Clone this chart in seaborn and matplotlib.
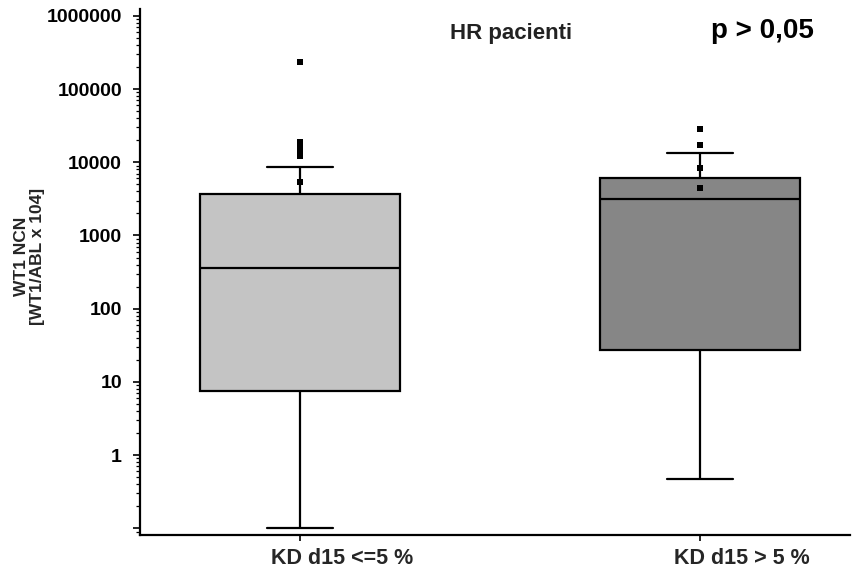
import numpy as np
import pandas as pd
import matplotlib
matplotlib.use("Agg")
import matplotlib.pyplot as plt
import seaborn as sns
from matplotlib.ticker import FixedLocator, LogLocator, NullFormatter

# Groups and box statistics (WT1 NCN)
groups = ["KD d15 <=5 %", "KD d15 > 5 %"]
whisker_low = [0.1, 0.47]
quartile_1 = [7.5, 27]
medians = [357, 3150]
quartile_3 = [3680, 6100]
whisker_high = [8550, 13400]

# Individual points drawn above/near the boxes
points_low = [234000, 19000, 16500, 14700, 13300, 12100, 5380]
points_high = [28500, 17300, 8300, 4450]

box_colors = ["#c4c4c4", "#868686"]
y_ticks = [0.1, 1, 10, 100, 1000, 10000, 100000, 1000000]
y_tick_labels = ["", "1", "10", "100", "1000", "10000", "100000", "1000000"]

# Five values per group: with linear percentiles these give exactly
# min / Q1 / median / Q3 / max
box_df = pd.DataFrame({
    "group": np.repeat(groups, 5),
    "value": [v for i in range(len(groups)) for v in
              (whisker_low[i], quartile_1[i], medians[i], quartile_3[i], whisker_high[i])],
})
pts_df = pd.DataFrame({
    "group": [groups[0]] * len(points_low) + [groups[1]] * len(points_high),
    "value": points_low + points_high,
})

sns.set_style("ticks")
plt.rcParams["font.family"] = ["Liberation Sans", "DejaVu Sans"]
plt.rcParams["font.weight"] = "bold"

fig = plt.figure(figsize=(8.53, 5.75), dpi=100)
ax = fig.add_axes([140 / 853, 40 / 575, 710 / 853, 526 / 575])

sns.boxplot(
    data=box_df, x="group", y="value", hue="group", order=groups, hue_order=groups,
    palette=box_colors, saturation=1, whis=np.inf, width=0.5, linecolor="black",
    linewidth=1.6, fliersize=0, log_scale=True, legend=False, capwidths=0.165, ax=ax,
)
sns.stripplot(
    data=pts_df, x="group", y="value", order=groups, jitter=False, marker="s",
    color="black", size=4.5, log_scale=True, ax=ax, zorder=5,
)

ax.set_xlim(-0.4, 1.375)
ax.set_ylim(0.081, 1.24e6)

ax.yaxis.set_major_locator(FixedLocator(y_ticks))
ax.set_yticklabels(y_tick_labels, fontsize=14, fontweight="bold")
ax.yaxis.set_minor_locator(LogLocator(base=10, subs=np.arange(2, 10)))
ax.yaxis.set_minor_formatter(NullFormatter())

# Category ticks, with the group names set slightly to the right of each tick
ax.set_xticks([0, 1])
ax.set_xticklabels([])
for i, name in enumerate(groups):
    ax.annotate(name, xy=(i, 0), xycoords=("data", "axes fraction"),
                xytext=(30, -9), textcoords="offset points", ha="center", va="top",
                fontsize=15.5, fontweight="bold")

ax.tick_params(axis="y", which="major", direction="out", length=5, width=1.2, pad=8, colors="black")
ax.tick_params(axis="y", which="minor", direction="out", length=3, width=0.9, colors="black")
ax.tick_params(axis="x", which="major", direction="out", length=4, width=1.2, colors="black")

for side in ("top", "right"):
    ax.spines[side].set_visible(False)
for side in ("left", "bottom"):
    ax.spines[side].set_linewidth(1.6)
    ax.spines[side].set_color("black")

ax.set_xlabel("")
ax.set_ylabel("WT1 NCN\n[WT1/ABL x 104]", fontsize=12.5, fontweight="bold", linespacing=1.1)
ax.yaxis.set_label_coords(-0.134, 0.53)

fig.text(511 / 853, 1 - 33 / 575, "HR pacienti", ha="center", va="center",
         fontsize=16, fontweight="bold", color="#222222")
fig.text(762 / 853, 1 - 31 / 575, "p > 0,05", ha="center", va="center",
         fontsize=20, fontweight="bold", color="black")

fig.savefig("out.png", dpi=100)
